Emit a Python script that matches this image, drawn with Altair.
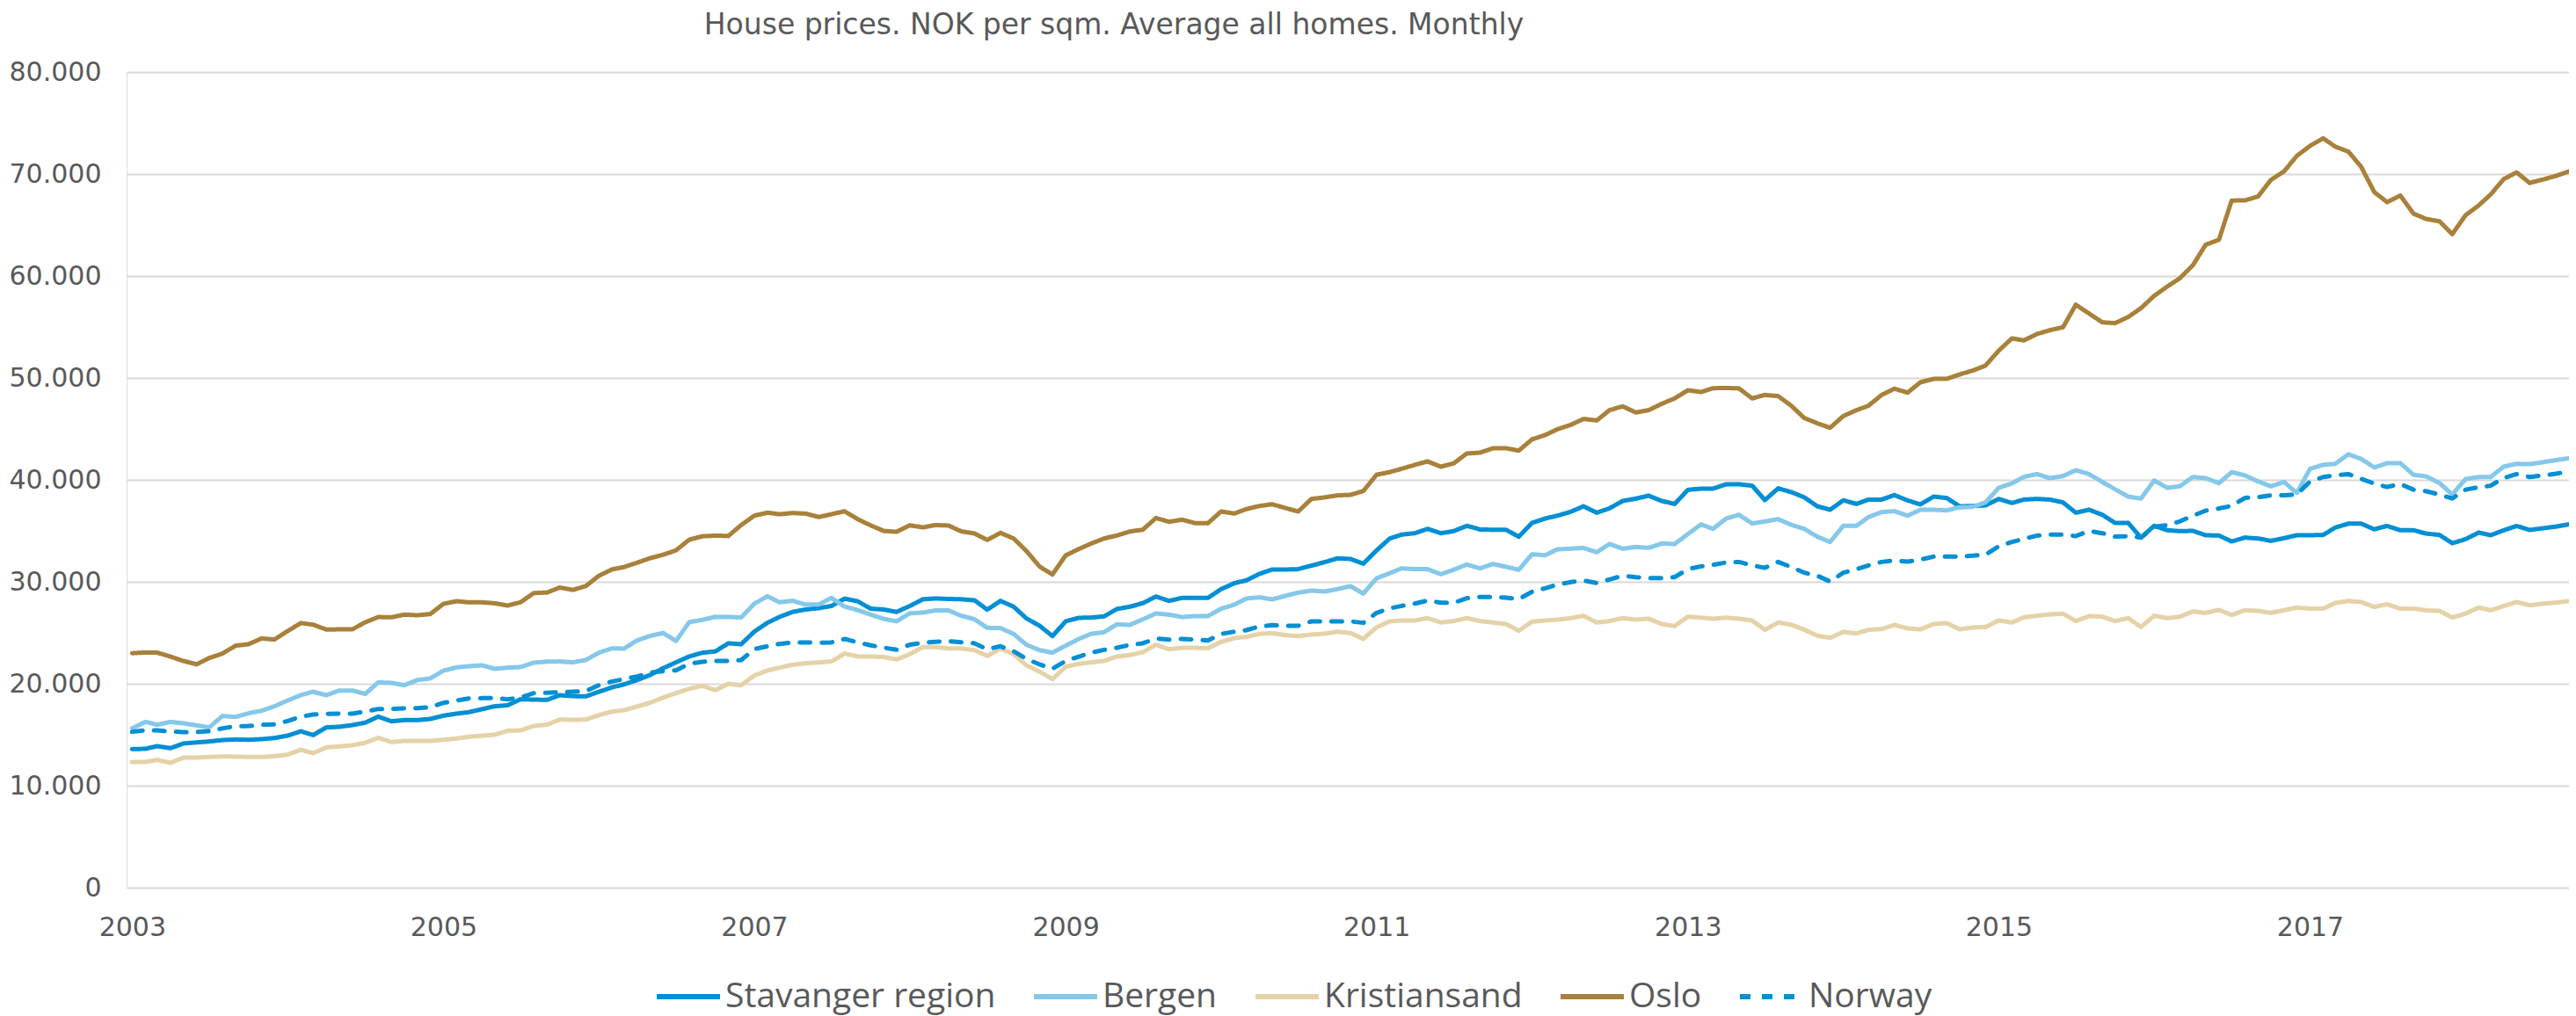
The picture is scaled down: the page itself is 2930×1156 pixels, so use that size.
import altair as alt
import pandas as pd

series_names = ["Stavanger region", "Bergen", "Kristiansand", "Oslo", "Norway"]
series_colors = ["#008FD5", "#85C8EA", "#E5D2A8", "#A8813A", "#008FD5"]
series_dashes = [[1, 0], [1, 0], [1, 0], [1, 0], [12, 13]]

start_month = "2003-01-01"
n_months = 189

stavanger = [13590, 13620, 13880, 13680, 14140, 14250, 14340, 14480, 14540, 14510, 14570, 14680,
             14910, 15340, 14970, 15720, 15780, 15950, 16180, 16780, 16320, 16440, 16440, 16550,
             16870, 17070, 17210, 17500, 17790, 17900, 18480, 18450, 18420, 18880, 18790, 18760,
             19220, 19650, 19940, 20370, 20860, 21530, 22100, 22680, 23050, 23170, 23970, 23880,
             25120, 25990, 26560, 27050, 27280, 27420, 27630, 28350, 28090, 27370, 27280, 27050,
             27630, 28290, 28370, 28320, 28290, 28190, 27270, 28130, 27560, 26410, 25690, 24680,
             26120, 26470, 26490, 26610, 27330, 27560, 27900, 28560, 28130, 28420, 28420, 28420,
             29280, 29860, 30140, 30780, 31210, 31210, 31240, 31580, 31930, 32300, 32240, 31780,
             33080, 34250, 34630, 34770, 35200, 34770, 34970, 35490, 35140, 35110, 35110, 34420,
             35780, 36210, 36490, 36870, 37410, 36780, 37210, 37930, 38160, 38450, 37930, 37640,
             39020, 39140, 39140, 39570, 39570, 39430, 38020, 39170, 38800, 38300, 37410, 37070,
             37990, 37640, 38070, 38070, 38510, 37990, 37590, 38360, 38220, 37410, 37440, 37500,
             38130, 37730, 38070, 38130, 38070, 37790, 36780, 37070, 36580, 35780, 35780, 34340,
             35490, 35060, 34970, 35000, 34570, 34540, 33960, 34340, 34250, 34020, 34280, 34570,
             34570, 34600, 35320, 35710, 35710, 35150, 35480, 35060, 35060, 34730, 34600, 33790,
             34180, 34830, 34570, 35060, 35480, 35090, 35250, 35410, 35640]

bergen = [15630, 16260, 15980, 16260, 16120, 15920, 15720, 16840, 16750, 17100, 17360, 17790,
          18360, 18880, 19220, 18880, 19340, 19340, 19000, 20140, 20090, 19860, 20370, 20520,
          21290, 21610, 21720, 21810, 21470, 21580, 21640, 22070, 22170, 22190, 22100, 22330,
          23050, 23480, 23450, 24260, 24690, 24980, 24200, 26040, 26270, 26560, 26560, 26500,
          27860, 28580, 28000, 28140, 27770, 27770, 28430, 27570, 27220, 26790, 26360, 26130,
          26910, 26990, 27190, 27200, 26670, 26320, 25490, 25460, 24890, 23820, 23300, 23050,
          23740, 24400, 24890, 25060, 25830, 25780, 26320, 26900, 26780, 26550, 26640, 26640,
          27360, 27760, 28360, 28480, 28280, 28620, 28940, 29140, 29050, 29280, 29570, 28850,
          30340, 30850, 31320, 31240, 31240, 30750, 31180, 31700, 31320, 31750, 31470, 31180,
          32700, 32610, 33190, 33250, 33330, 32900, 33710, 33250, 33420, 33330, 33760, 33710,
          34680, 35630, 35200, 36210, 36580, 35720, 35920, 36150, 35590, 35200, 34430, 33910,
          35490, 35490, 36350, 36840, 36930, 36490, 37070, 37070, 37010, 37300, 37360, 37790,
          39220, 39660, 40290, 40570, 40170, 40370, 40950, 40570, 39800, 39080, 38360, 38160,
          39940, 39220, 39370, 40290, 40170, 39680, 40760, 40440, 39850, 39370, 39790, 38720,
          41090, 41480, 41570, 42510, 42060, 41220, 41640, 41640, 40500, 40340, 39690, 38560,
          40080, 40280, 40280, 41310, 41570, 41540, 41730, 41930, 42120]

kristiansand = [12330, 12330, 12530, 12240, 12760, 12760, 12820, 12870, 12850, 12820, 12820, 12900,
                13050, 13530, 13190, 13760, 13850, 13970, 14200, 14710, 14280, 14400, 14400, 14400,
                14510, 14630, 14800, 14910, 15000, 15400, 15430, 15860, 15990, 16490, 16460, 16490,
                16920, 17270, 17410, 17780, 18130, 18650, 19080, 19510, 19800, 19370, 20000, 19860,
                20810, 21300, 21580, 21870, 22010, 22100, 22190, 22960, 22680, 22680, 22620, 22390,
                22910, 23600, 23600, 23460, 23460, 23300, 22730, 23450, 22900, 21810, 21180, 20460,
                21670, 21950, 22100, 22240, 22670, 22820, 23100, 23820, 23390, 23530, 23530, 23480,
                24110, 24480, 24600, 24890, 24970, 24770, 24680, 24830, 24910, 25110, 24970, 24400,
                25530, 26130, 26210, 26210, 26440, 26010, 26150, 26440, 26150, 26010, 25860, 25200,
                26090, 26210, 26290, 26440, 26670, 26010, 26150, 26440, 26290, 26380, 25860, 25660,
                26580, 26490, 26380, 26490, 26380, 26210, 25290, 26010, 25790, 25310, 24710, 24510,
                25090, 24940, 25290, 25370, 25770, 25430, 25340, 25860, 25950, 25340, 25520, 25570,
                26210, 26010, 26520, 26670, 26810, 26870, 26150, 26640, 26580, 26150, 26440, 25570,
                26670, 26440, 26580, 27100, 26950, 27250, 26750, 27210, 27150, 26950, 27210, 27470,
                27370, 27370, 27930, 28120, 28020, 27540, 27800, 27370, 27370, 27210, 27150, 26500,
                26890, 27470, 27210, 27630, 28020, 27700, 27860, 27960, 28120]

oslo = [23000, 23070, 23050, 22670, 22240, 21900, 22530, 22960, 23740, 23880, 24450, 24340,
        25170, 25950, 25800, 25320, 25340, 25340, 26030, 26550, 26520, 26780, 26720, 26840,
        27840, 28100, 27990, 27990, 27900, 27670, 27990, 28900, 28950, 29440, 29210, 29580,
        30590, 31220, 31450, 31880, 32320, 32660, 33090, 34130, 34470, 34530, 34500, 35570,
        36490, 36780, 36630, 36750, 36690, 36350, 36630, 36920, 36140, 35540, 34990, 34910,
        35540, 35340, 35570, 35520, 34950, 34740, 34110, 34800, 34250, 33020, 31490, 30720,
        32590, 33220, 33740, 34250, 34540, 34940, 35110, 36260, 35890, 36090, 35750, 35750,
        36900, 36700, 37130, 37440, 37610, 37240, 36900, 38130, 38280, 38480, 38530, 38910,
        40500, 40760, 41090, 41470, 41810, 41290, 41610, 42590, 42670, 43100, 43100, 42870,
        43970, 44400, 44970, 45400, 45980, 45830, 46840, 47210, 46610, 46840, 47470, 47990,
        48790, 48620, 48990, 49020, 48970, 47990, 48330, 48220, 47270, 46080, 45550, 45110,
        46260, 46840, 47270, 48330, 48940, 48560, 49570, 49910, 49910, 50340, 50720, 51210,
        52670, 53880, 53680, 54310, 54680, 54970, 57180, 56320, 55460, 55370, 55980, 56840,
        58050, 58970, 59770, 61060, 63070, 63550, 67400, 67410, 67800, 69420, 70260, 71780,
        72760, 73500, 72690, 72200, 70710, 68220, 67240, 67890, 66110, 65590, 65360, 64100,
        65950, 66920, 67990, 69510, 70160, 69120, 69450, 69810, 70260]

norway = [15290, 15430, 15430, 15320, 15260, 15260, 15350, 15630, 15830, 15860, 15980, 16010,
          16350, 16780, 16980, 17040, 17070, 17070, 17270, 17530, 17530, 17590, 17610, 17700,
          18130, 18360, 18560, 18590, 18590, 18480, 18650, 19080, 19110, 19170, 19220, 19280,
          19860, 20230, 20460, 20720, 21090, 21240, 21320, 21960, 22160, 22240, 22240, 22330,
          23400, 23680, 23910, 24060, 24060, 24030, 24060, 24400, 24060, 23770, 23540, 23340,
          23830, 24030, 24120, 24180, 24080, 23970, 23390, 23680, 23190, 22440, 21900, 21470,
          22240, 22670, 23050, 23330, 23530, 23820, 23970, 24450, 24340, 24400, 24340, 24250,
          24890, 25110, 25260, 25630, 25750, 25690, 25690, 26120, 26120, 26120, 26120, 25980,
          26960, 27400, 27640, 27870, 28160, 27960, 27930, 28390, 28510, 28510, 28450, 28300,
          29020, 29370, 29740, 29970, 30120, 29890, 30230, 30600, 30460, 30370, 30370, 30460,
          31240, 31520, 31670, 31900, 31950, 31610, 31380, 31950, 31450, 30900, 30600, 30030,
          30890, 31240, 31610, 31950, 32100, 31980, 32180, 32470, 32470, 32470, 32560, 32670,
          33480, 33910, 34200, 34540, 34630, 34630, 34480, 35000, 34770, 34430, 34480, 34340,
          35400, 35570, 35920, 36490, 36980, 37200, 37450, 38230, 38300, 38490, 38490, 38560,
          39850, 40280, 40440, 40570, 40110, 39630, 39300, 39600, 39040, 38880, 38560, 38170,
          39040, 39270, 39430, 40180, 40570, 40280, 40440, 40600, 40830]

year_ticks = [2003, 2005, 2007, 2009, 2011, 2013, 2015, 2017]
y_ticks = [0, 10000, 20000, 30000, 40000, 50000, 60000, 70000, 80000]

dates = pd.date_range(start_month, periods=n_months, freq="MS")
frames = []
for name, vals in zip(series_names, [stavanger, bergen, kristiansand, oslo, norway]):
    frames.append(pd.DataFrame({"date": dates, "value": vals, "series": name}))
df = pd.concat(frames, ignore_index=True)

TEXT = "#595959"

legend = alt.Legend(
    title=None, orient="none", legendX=600, legendY=1013, direction="horizontal",
    labelFont="Open Sans", labelFontSize=39, labelColor=TEXT, labelLimit=2000,
    symbolType="stroke", symbolSize=5184, symbolStrokeWidth=6,
    columnPadding=31, labelOffset=3,
)

x_enc = alt.X(
    "date:T",
    scale=alt.Scale(domain=[alt.DateTime(year=2002, month=12, date=19),
                            alt.DateTime(year=2018, month=9, date=1)]),
    axis=alt.Axis(
        values=[alt.DateTime(year=y, month=1, date=1) for y in year_ticks],
        format="%Y", title=None, grid=False, ticks=False, domain=False,
        labelPadding=30, labelFont="DejaVu Sans", labelFontSize=30, labelColor=TEXT,
    ),
)
y_enc = alt.Y(
    "value:Q",
    scale=alt.Scale(domain=[0, 80000]),
    axis=alt.Axis(
        values=y_ticks, title=None, ticks=False, domain=False, grid=True,
        gridColor="#D9D9D9", gridWidth=2,
        labelExpr="replace(format(datum.value, ','), ',', '.')",
        labelPadding=29, labelFont="DejaVu Sans", labelFontSize=30, labelColor=TEXT,
    ),
)
color_enc = alt.Color("series:N", scale=alt.Scale(domain=series_names, range=series_colors), legend=legend)
dash_enc = alt.StrokeDash("series:N", scale=alt.Scale(domain=series_names, range=series_dashes), legend=legend)

layers = []
for name in series_names:
    layers.append(
        alt.Chart(df)
        .transform_filter(alt.datum.series == name)
        .mark_line(strokeWidth=5, strokeJoin="round", strokeCap="round")
        .encode(x=x_enc, y=y_enc, color=color_enc, strokeDash=dash_enc)
    )

chart = alt.layer(*layers).properties(
    width=2778, height=928,
    autosize=alt.AutoSizeParams(type="none"),
    padding={"left": 136, "top": 74, "right": 0, "bottom": 146},
    title=alt.TitleParams(
        text="House prices. NOK per sqm. Average all homes. Monthly",
        font="DejaVu Sans", fontSize=33, fontWeight="normal", color=TEXT,
        anchor="middle", dx=-266, offset=21,
    ),
).configure_view(stroke=None).configure(background="white")

chart.save("out.html", embed_options={"renderer": "svg", "actions": False})
